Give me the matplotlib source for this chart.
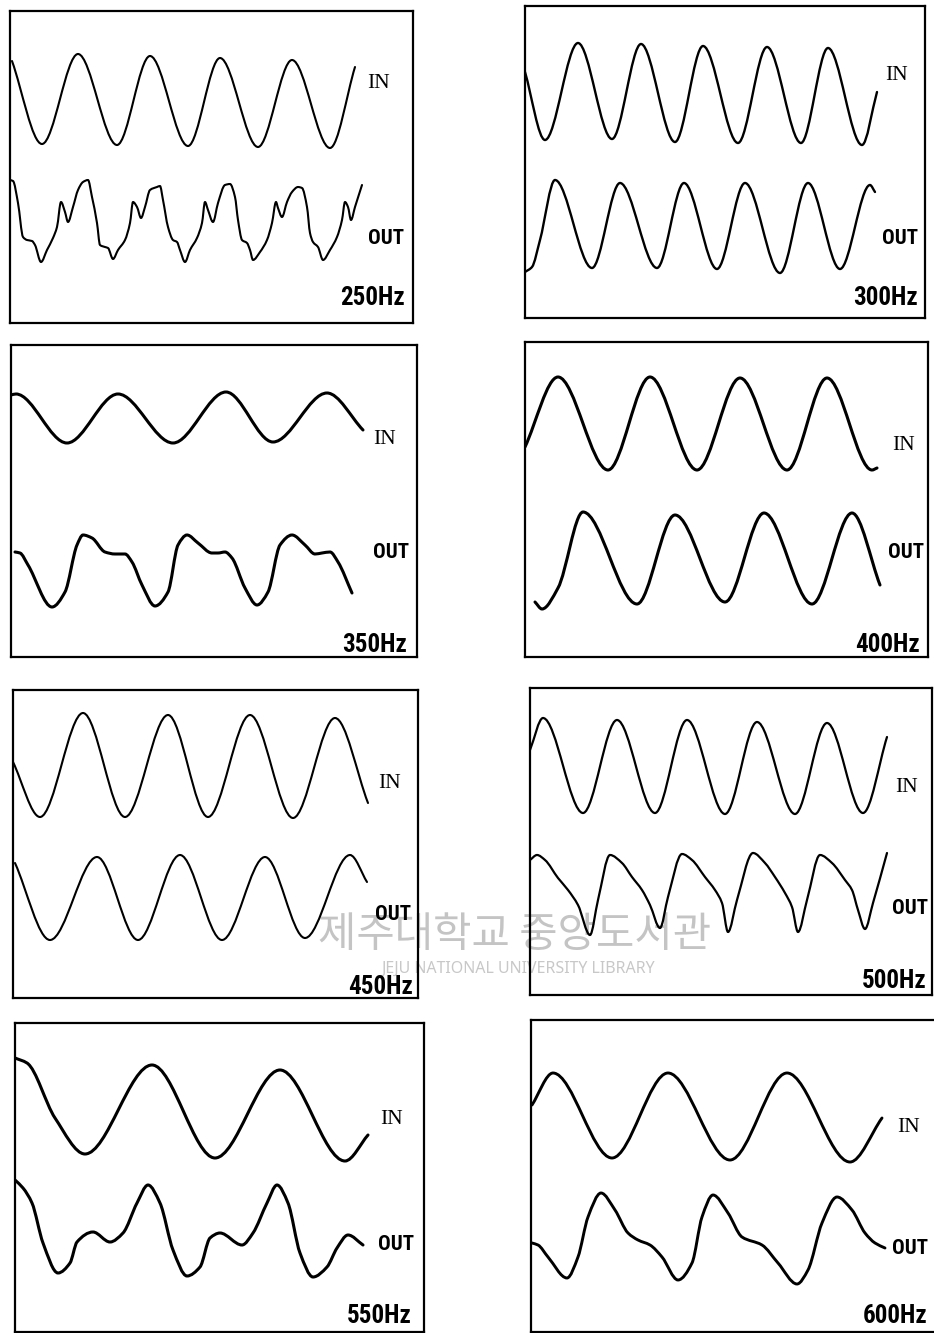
import numpy as np
import matplotlib
matplotlib.use("Agg")
import matplotlib.pyplot as plt
from matplotlib.path import Path
from matplotlib.patches import PathPatch
from matplotlib import font_manager

# ---------------- data (x = time in px from frame left, y = px from frame top) -------------
freq_labels = ["250Hz", "300Hz", "350Hz", "400Hz", "450Hz", "500Hz", "550Hz", "600Hz"]

in_250_x = [2, 32, 68, 107, 140, 178, 210, 248, 282, 320, 345]
in_250_y = [50, 133, 43, 134, 45, 135, 47, 136, 49, 137, 56]
out_250_x = [0, 3, 8, 13, 17, 22, 25, 31, 37, 43, 47, 51, 55, 58, 63, 68, 73, 78, 82, 87, 90, 95, 98, 103,
             108, 115, 120, 123, 127, 131, 135, 140, 147, 150, 153, 158, 163, 167, 170, 175, 180, 187, 192,
             195, 198, 203, 208, 215, 220, 225, 228, 232, 237, 240, 243, 250, 257, 262, 266, 268, 272, 277,
             282, 288, 292, 297, 300, 303, 308, 313, 320, 327, 332, 335, 338, 341, 345, 352]
out_250_y = [169, 170, 192, 226, 229, 230, 234, 251, 239, 227, 216, 191, 201, 211, 196, 179, 171, 169, 186,
             212, 234, 236, 237, 248, 239, 229, 212, 191, 196, 207, 196, 179, 176, 175, 189, 216, 229, 231,
             239, 251, 239, 227, 212, 191, 199, 211, 192, 174, 173, 186, 209, 229, 232, 239, 249, 241, 229,
             212, 191, 197, 206, 191, 181, 176, 177, 196, 222, 231, 236, 249, 239, 226, 209, 191, 196, 209,
             196, 174]

in_300_x = [0, 20, 53, 87, 116, 150, 178, 213, 242, 276, 303, 337, 352]
in_300_y = [66, 134, 37, 133, 38, 136, 40, 137, 41, 137, 42, 139, 86]
out_300_x = [0, 7, 15, 30, 67, 95, 132, 159, 192, 220, 255, 283, 315, 345, 350]
out_300_y = [266, 261, 234, 174, 262, 177, 262, 177, 263, 177, 267, 177, 263, 179, 186]

in_350_x = [0, 5, 56, 107, 162, 215, 262, 316, 352]
in_350_y = [50, 49, 98, 49, 98, 47, 97, 48, 85]
out_350_x = [4, 9, 17, 41, 54, 66, 72, 81, 94, 104, 114, 121, 131, 144, 157, 167, 176, 187, 201, 207,
             214, 221, 234, 246, 257, 269, 281, 294, 304, 311, 319, 327, 341]
out_350_y = [207, 208, 220, 262, 247, 200, 190, 193, 207, 209, 209, 217, 240, 261, 247, 200, 190, 198,
             208, 208, 207, 213, 243, 260, 247, 200, 190, 200, 209, 208, 207, 217, 248]

in_400_x = [0, 33, 83, 125, 172, 215, 262, 302, 347, 352]
in_400_y = [105, 35, 128, 35, 128, 36, 128, 36, 128, 126]
out_400_x = [10, 17, 33, 58, 112, 150, 200, 239, 287, 327, 355]
out_400_y = [260, 267, 246, 170, 262, 173, 260, 171, 262, 171, 243]

in_450_x = [0, 27, 70, 112, 155, 195, 237, 280, 322, 355]
in_450_y = [72, 127, 23, 127, 25, 127, 25, 128, 28, 113]
out_450_x = [2, 37, 84, 125, 167, 209, 252, 292, 337, 354]
out_450_y = [173, 250, 167, 250, 165, 250, 167, 248, 165, 192]

in_500_x = [0, 13, 53, 87, 125, 157, 195, 227, 265, 297, 333, 357]
in_500_y = [62, 30, 125, 32, 125, 32, 126, 34, 126, 35, 125, 49]
out_500_x = [0, 7, 15, 28, 38, 48, 60, 68, 80, 92, 102, 112, 120, 130, 138, 152, 162, 175, 185, 192,
             198, 207, 223, 235, 245, 255, 262, 268, 277, 290, 302, 315, 322, 328, 335, 343, 357]
out_500_y = [172, 167, 172, 190, 202, 217, 247, 212, 167, 175, 189, 202, 217, 240, 209, 166, 172, 189,
             202, 215, 244, 212, 165, 175, 189, 205, 219, 244, 212, 167, 175, 192, 202, 222, 241, 215, 165]

in_550_x = [0, 12, 40, 70, 137, 200, 265, 330, 353]
in_550_y = [35, 40, 95, 131, 42, 135, 47, 138, 112]
out_550_x = [0, 8, 17, 28, 43, 55, 62, 78, 95, 108, 122, 133, 145, 158, 172, 185, 195, 205, 227, 238,
             252, 262, 273, 285, 298, 312, 322, 333, 348]
out_550_y = [157, 165, 180, 220, 250, 240, 219, 209, 219, 210, 180, 162, 180, 227, 253, 244, 215, 210,
             222, 210, 180, 162, 180, 230, 254, 244, 225, 212, 222]

in_600_x = [1, 22, 81, 137, 199, 256, 319, 351]
in_600_y = [85, 53, 138, 53, 140, 53, 142, 98]
out_600_x = [1, 7, 17, 36, 47, 57, 70, 84, 97, 107, 119, 131, 147, 161, 171, 182, 197, 211, 231, 247,
             266, 277, 291, 306, 321, 334, 344, 354]
out_600_y = [223, 225, 237, 258, 237, 197, 173, 190, 213, 220, 225, 237, 260, 243, 197, 175, 193, 217,
             225, 243, 264, 250, 203, 177, 190, 213, 223, 228]

traces_in = [(in_250_x, in_250_y), (in_300_x, in_300_y), (in_350_x, in_350_y), (in_400_x, in_400_y),
             (in_450_x, in_450_y), (in_500_x, in_500_y), (in_550_x, in_550_y), (in_600_x, in_600_y)]
traces_out = [(out_250_x, out_250_y), (out_300_x, out_300_y), (out_350_x, out_350_y),
              (out_400_x, out_400_y), (out_450_x, out_450_y), (out_500_x, out_500_y),
              (out_550_x, out_550_y), (out_600_x, out_600_y)]

# ---------------- layout (pixel frames of the 8 scope panels) ----------------
W, H = 934, 1333
frames = [  # left, top, right, bottom
    (10, 11, 413, 323), (525, 6, 925, 318),
    (11, 345, 417, 657), (525, 342, 928, 657),
    (13, 690, 418, 998), (530, 688, 932, 995),
    (15, 1023, 424, 1332), (531, 1020, 936, 1332),
]
label_pos = [  # IN (x, cy), OUT (x, cy), Hz (right x, cy)  in panel px
    ((357, 73), (358, 227), (395, 287)),
    ((360, 70), (357, 232), (393, 292)),
    ((362, 95), (362, 208), (396, 300)),
    ((367, 103), (363, 211), (395, 303)),
    ((365, 93), (362, 225), (400, 297)),
    ((365, 99), (362, 220), (397, 293)),
    ((365, 97), (363, 222), (397, 293)),
    ((366, 107), (361, 228), (396, 296)),
]
line_w = [1.5, 1.7, 2.2, 2.2, 1.5, 1.6, 2.2, 2.1]


def hermite_path(xs, ys):
    x = np.asarray(xs, float)
    y = np.asarray(ys, float)
    h = np.diff(x)
    d = np.diff(y) / h
    n = len(x)
    m = np.zeros(n)
    m[0], m[-1] = d[0], d[-1]
    for k in range(1, n - 1):
        if d[k - 1] * d[k] <= 0:
            m[k] = 0.0
        else:
            w1 = 2 * h[k] + h[k - 1]
            w2 = h[k] + 2 * h[k - 1]
            m[k] = (w1 + w2) / (w1 / d[k - 1] + w2 / d[k])
    verts = [(x[0], y[0])]
    codes = [Path.MOVETO]
    for k in range(n - 1):
        verts += [(x[k] + h[k] / 3, y[k] + m[k] * h[k] / 3),
                  (x[k + 1] - h[k] / 3, y[k + 1] - m[k + 1] * h[k] / 3),
                  (x[k + 1], y[k + 1])]
        codes += [Path.CURVE4] * 3
    return Path(verts, codes)


installed = {f.name for f in font_manager.fontManager.ttflist}
narrow_pref = [n for n in ["Liberation Sans Narrow", "Roboto Condensed", "DejaVu Sans Condensed",
                           "Roboto", "DejaVu Sans"] if n in installed] or ["DejaVu Sans"]
narrow_name = narrow_pref[0]
is_narrow = narrow_name in ("Liberation Sans Narrow", "Roboto Condensed", "DejaVu Sans Condensed")
out_fs = 15 if is_narrow else 13
hz_fs = 18 if is_narrow else 15.5
narrow = [narrow_name, "DejaVu Sans"]
serif = ["Liberation Serif", "DejaVu Serif"]

fig = plt.figure(figsize=(W / 100, H / 100), dpi=100)
fig.patch.set_facecolor("white")

for i, (l, t, r, b) in enumerate(frames):
    w, hgt = r - l, b - t
    ax = fig.add_axes([l / W, 1 - b / H, w / W, hgt / H])
    ax.set_facecolor("none")
    ax.set_xlim(0, w)
    ax.set_ylim(hgt, 0)
    ax.set_xticks([])
    ax.set_yticks([])
    for s in ax.spines.values():
        s.set_linewidth(1.6)
        s.set_color("black")
    for xs, ys in (traces_in[i], traces_out[i]):
        ax.add_patch(PathPatch(hermite_path(xs, ys), fill=False, lw=line_w[i],
                               edgecolor="black", capstyle="round", joinstyle="round"))
    (ix, iy), (ox, oy), (hx, hy) = label_pos[i]
    ax.text(ix, iy, "IN", family=serif, fontsize=15.5, ha="left", va="center", color="black")
    ax.text(ox, oy, "OUT", family=narrow, fontsize=out_fs, fontweight="bold", ha="left", va="center",
            color="black")
    ax.text(hx, hy, freq_labels[i], family=narrow, fontsize=hz_fs, fontweight="bold", ha="right",
            va="center", color="black")

# faint library watermark
fig.text(515 / W, 1 - 935 / H, "제주대학교 중앙도서관", family=["Noto Sans CJK KR", "DejaVu Sans"],
         fontsize=30, color="#c4c4c4", ha="center", va="center", zorder=-1)
fig.text(518 / W, 1 - 969 / H, "JEJU NATIONAL UNIVERSITY LIBRARY", family=["Noto Sans", "DejaVu Sans"],
         fontsize=11.5, color="#c8c8c8", ha="center", va="center", zorder=-1)

fig.savefig("out.png", dpi=100, facecolor="white")
